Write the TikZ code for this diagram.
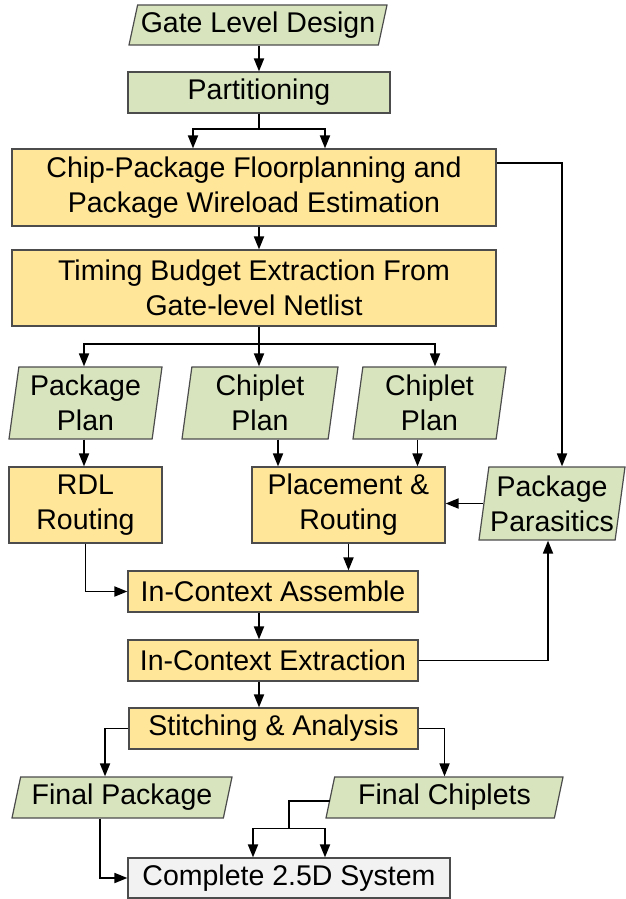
\documentclass[tikz,border=0pt]{standalone}
\usepackage{fontspec}
\setmainfont{Liberation Sans}
\usepackage{tikz}
\usetikzlibrary{arrows.meta}
\usetikzlibrary{shapes.geometric}
\definecolor{mgreen}{RGB}{215, 228, 189}
\definecolor{myellow}{RGB}{255, 230, 153}
\definecolor{mgray}{RGB}{242, 242, 242}
\tikzset{box/.style = {draw = black!70, line width = 1.2pt, rectangle, inner sep = 0, align = center, font = \fontsize{28.5}{35}\selectfont}}
\tikzset{procbox/.style = {box, fill = myellow}}
\tikzset{endbox/.style = {box, fill = mgray}}
\tikzset{iobox/.style = {box, fill = mgreen, trapezium, trapezium left angle = 72, trapezium right angle = 108, trapezium stretches body}}
\tikzset{iotall/.style = {iobox, trapezium left angle = 80, trapezium right angle = 100}}
\tikzset{wire/.style = {line width = 1.8pt}}
\tikzset{arr/.style = {wire, -{Triangle[length = 13pt, width = 10pt]}}}

\begin{document}
\begin{tikzpicture}[x = 1pt, y = -1pt]
      \useasboundingbox (0, 0) rectangle (626, 899);

      \node [iobox, minimum width = 258pt, minimum height = 40pt] (gate) at (258, 25) {Gate Level Design};
      \node [box, fill = mgreen, minimum width = 262pt, minimum height = 41pt] (part) at (259, 92.5) {Partitioning};
      \node [procbox, minimum width = 484pt, minimum height = 77pt] (floor) at (254, 187.5) {Chip-Package Floorplanning and\\Package Wireload Estimation};
      \node [procbox, minimum width = 484pt, minimum height = 76pt] (timing) at (254, 288) {Timing Budget Extraction From\\Gate-level Netlist};

      \node [iotall, minimum width = 153pt, minimum height = 72pt] (pkgplan) at (85.5, 403) {Package\\Plan};
      \node [iotall, minimum width = 156pt, minimum height = 72pt] (chipA) at (260, 403) {Chiplet\\Plan};
      \node [iotall, minimum width = 153pt, minimum height = 72pt] (chipB) at (429.5, 403) {Chiplet\\Plan};

      \node [procbox, minimum width = 153pt, minimum height = 76pt] (rdl) at (85.5, 505) {RDL\\Routing};
      \node [procbox, minimum width = 193pt, minimum height = 76pt] (place) at (348.5, 505) {Placement \&\\Routing};
      \node [iotall, minimum width = 146pt, minimum height = 73pt] (para) at (552, 503.5) {Package\\Parasitics};

      \node [procbox, minimum width = 290pt, minimum height = 41pt] (asm) at (273, 591.5) {In-Context Assemble};
      \node [procbox, minimum width = 290pt, minimum height = 41pt] (ext) at (273, 660.5) {In-Context Extraction};
      \node [procbox, minimum width = 289pt, minimum height = 41pt] (stitch) at (273.5, 728.5) {Stitching \& Analysis};

      \node [iobox, minimum width = 220pt, minimum height = 41pt] (finpkg) at (122, 797.5) {Final Package};
      \node [iobox, minimum width = 237pt, minimum height = 41pt] (finchip) at (444.5, 797.5) {Final Chiplets};
      \node [endbox, minimum width = 322pt, minimum height = 40pt] (complete) at (289, 878) {Complete 2.5D System};

      \draw [arr] (gate.south -| part) -- (part.north);
      \draw [wire] (part.south) -- ++(0, 15) coordinate (pj);
      \draw [arr] (pj) -| ([xshift = -66pt]pj |- floor.north);
      \draw [arr] (pj) -| ([xshift = 66pt]pj |- floor.north);
      \draw [arr] (floor.south -| part) -- (timing.north -| part);

      \draw [wire] (timing.south -| part) -- ++(0, 17) coordinate (tj);
      \draw [arr] (tj) -| ([xshift = -1.5pt]pkgplan.north);
      \draw [arr] (tj) -- (tj |- chipA.north);
      \draw [arr] (tj) -| ([xshift = 5.5pt]chipB.north);

      \draw [arr] ([xshift = -1.5pt]pkgplan.south) -- ([xshift = -1.5pt]pkgplan.south |- rdl.north);
      \draw [arr] ([xshift = 18pt]chipA.south) -- ([xshift = 18pt]chipA.south |- place.north);
      \draw [arr] ([xshift = -12pt]chipB.south) -- ([xshift = -12pt]chipB.south |- place.north);
      \draw [arr] (para.west) -- (para.west -| place.east);
      \draw [arr] ([yshift = 24.5pt]floor.east) -| ([xshift = 10pt]para.north);

      \draw [arr] (rdl.south) |- (asm.west);
      \draw [arr] (place.south) -- (place.south |- asm.north);
      \draw [arr] (asm.south -| part) -- (ext.north -| part);
      \draw [arr] (ext.east) -| ([xshift = -4pt]para.south);
      \draw [arr] (ext.south -| part) -- (stitch.north -| part);

      \draw [arr] (stitch.west) -| ([xshift = -17pt]finpkg.north);
      \draw [arr] (stitch.east) -| (finchip.north);
      \draw [arr] ([xshift = -22pt]finpkg.south) |- (complete.west);
      \draw [wire] ([yshift = -3.5pt]finchip.west) -| ([yshift = 29pt]complete.north) coordinate (cj);
      \draw [arr] (cj) -| ([xshift = -36pt]complete.north);
      \draw [arr] (cj) -| ([xshift = 36pt]complete.north);
    \end{tikzpicture}
\end{document}
